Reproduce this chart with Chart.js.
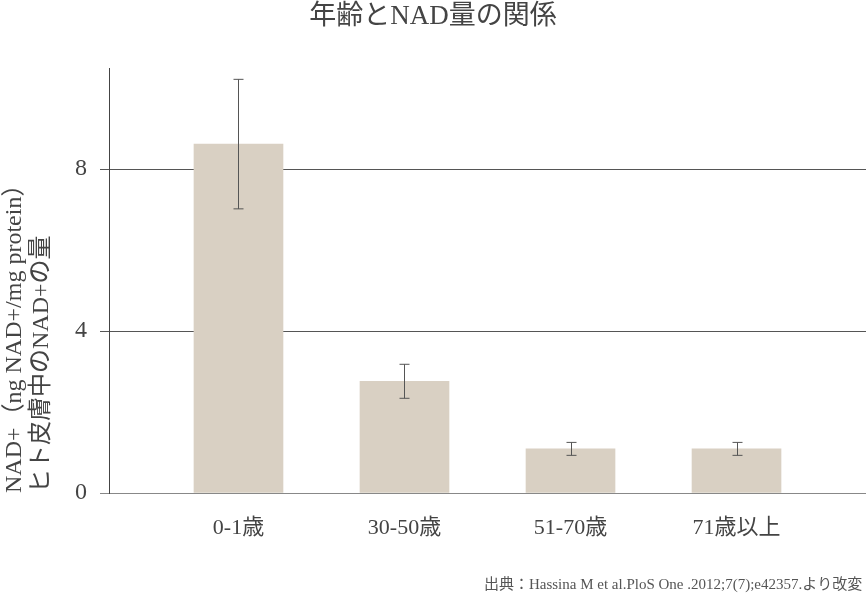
<!DOCTYPE html>
<html>
<head>
<meta charset="utf-8">
<script src="https://cdn.jsdelivr.net/npm/chart.js@4"></script>
<style>
html,body{margin:0;padding:0;background:#fff;}
#wrap{width:866px;height:598px;}
</style>
</head>
<body>
<div id="wrap"><canvas id="c" width="866" height="598"></canvas></div>
<script>
const categories = ['0-1歳', '30-50歳', '51-70歳', '71歳以上'];
const nadValues = [8.62, 2.76, 1.09, 1.09];
const nadErrors = [1.6, 0.42, 0.16, 0.16];
const yTicks = [0, 4, 8];
const titleText = '年齢とNAD量の関係';
const yTitleLines = ['NAD+（ng NAD+/mg protein）', 'ヒト皮膚中のNAD+の量'];
const sourceText = '出典：Hassina M et al.PloS One .2012;7(7);e42357.より改変 ';

const FONT = "'Liberation Serif', 'Noto Sans CJK JP', serif";

const errorBars = {
  id: 'errorBars',
  afterDatasetsDraw(chart) {
    const ctx = chart.ctx, xs = chart.scales.x, ys = chart.scales.y;
    ctx.save();
    ctx.strokeStyle = '#555';
    ctx.lineWidth = 1;
    nadValues.forEach((v, i) => {
      const x = Math.round(xs.getPixelForValue(i)) + 0.5;
      const yt = ys.getPixelForValue(v + nadErrors[i]);
      const yb = ys.getPixelForValue(v - nadErrors[i]);
      ctx.beginPath();
      ctx.moveTo(x, yt); ctx.lineTo(x, yb);
      ctx.moveTo(x - 5, yt); ctx.lineTo(x + 5, yt);
      ctx.moveTo(x - 5, yb); ctx.lineTo(x + 5, yb);
      ctx.stroke();
    });
    ctx.restore();
  }
};

new Chart(document.getElementById('c'), {
  type: 'bar',
  data: {
    datasets: [{
      data: nadValues.map((v, i) => ({x: i, y: v})),
      backgroundColor: '#d9d0c3',
      borderWidth: 0,
      barThickness: 89
    }]
  },
  options: {
    responsive: false,
    animation: false,
    layout: {padding: 0},
    plugins: {
      legend: {display: false},
      tooltip: {enabled: false},
      title: {
        display: true,
        text: titleText,
        color: '#444',
        font: {family: FONT, size: 27, weight: 'normal'},
        padding: {top: 1, bottom: 34.6}
      },
      subtitle: {
        display: true,
        position: 'bottom',
        align: 'end',
        text: sourceText,
        color: '#555',
        font: {family: FONT, size: 15, weight: 'normal'},
        padding: {top: 0, bottom: 4}
      }
    },
    scales: {
      x: {
        type: 'linear',
        offset: false,
        min: -0.78,
        max: 3.78,
        afterBuildTicks: s => { s.ticks = categories.map((c, i) => ({value: i})); },
        afterFit: s => { s.height = 83; },
        grid: {display: false},
        border: {display: true, color: '#888', width: 1},
        ticks: {
          callback: v => categories[v],
          color: '#444',
          font: {family: FONT, size: 22},
          padding: 14,
          maxRotation: 0,
          autoSkip: false
        }
      },
      y: {
        min: 0,
        max: 10.5,
        afterBuildTicks: s => { s.ticks = yTicks.map(v => ({value: v})); },
        afterFit: s => { s.width = 109; },
        grid: {
          color: c => (c.tick && c.tick.value === 0) ? '#888' : '#555',
          tickLength: 9,
          drawTicks: true
        },
        border: {display: true, color: '#444', width: 1},
        ticks: {
          color: '#444',
          font: {family: FONT, size: 24},
          padding: 13
        },
        title: {
          display: true,
          text: yTitleLines,
          align: 'start',
          color: '#444',
          font: {family: FONT, size: 24, lineHeight: 1.125},
          padding: {top: 1.5, bottom: 0}
        }
      }
    }
  },
  plugins: [errorBars]
});
</script>
</body>
</html>
